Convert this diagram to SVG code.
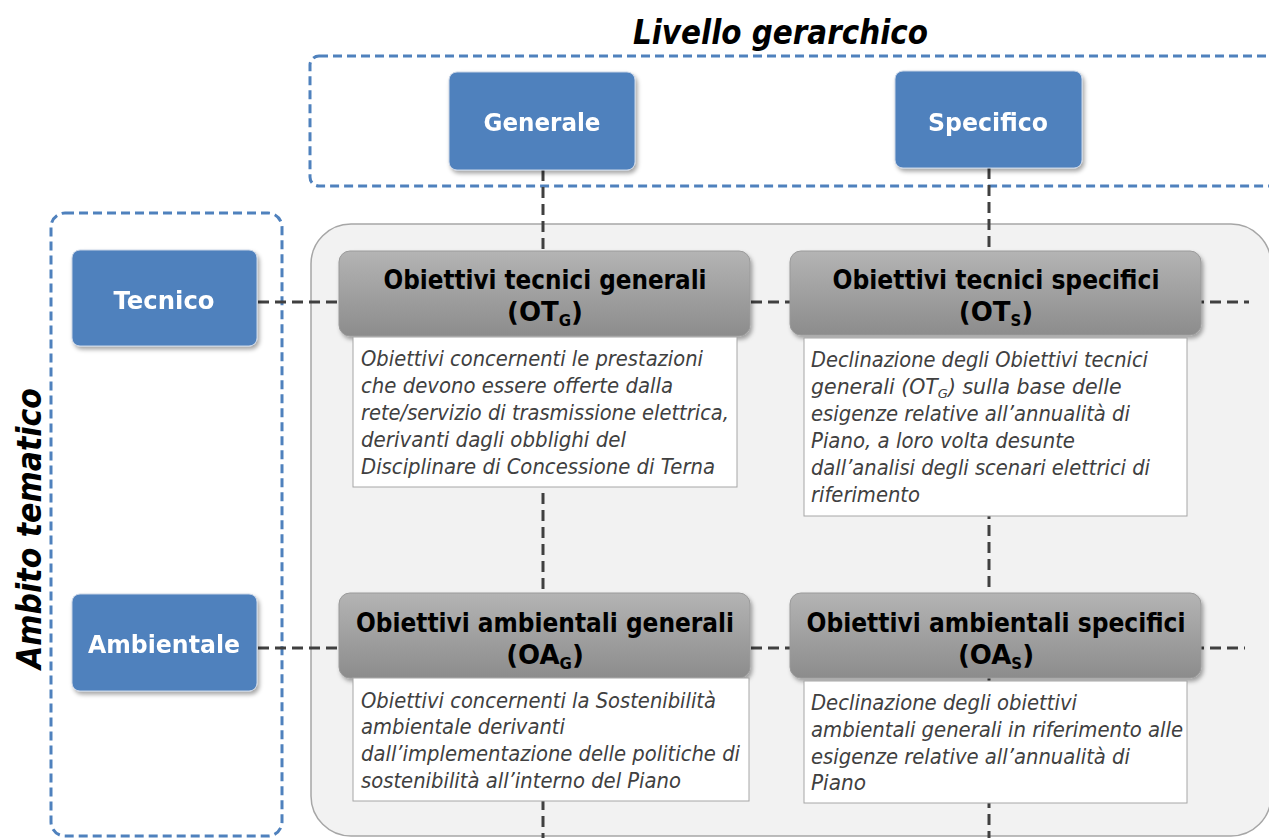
<svg xmlns="http://www.w3.org/2000/svg" width="1269" height="838" viewBox="0 0 1269 838">
<defs>
<linearGradient id="hdr" x1="0" y1="0" x2="0" y2="1">
<stop offset="0" stop-color="#b4b4b4"/>
<stop offset="1" stop-color="#8c8c8c"/>
</linearGradient>
<filter id="sh" x="-10%" y="-10%" width="125%" height="130%">
<feDropShadow dx="2" dy="3" stdDeviation="2" flood-color="#000" flood-opacity="0.35"/>
</filter>
<style>
.dashblue{fill:none;stroke:#4f81bd;stroke-width:3;stroke-dasharray:9 5}
.conn{fill:none;stroke:#404040;stroke-width:3;stroke-dasharray:11 6}
.blue{fill:#4f81bd;stroke:#c8d4e6;stroke-width:1}
.blabel{font-family:"DejaVu Sans",Verdana,sans-serif;font-weight:bold;font-size:25px;fill:#ffffff;text-anchor:middle}
.hdr{fill:url(#hdr);stroke:#9a9a9a;stroke-width:1}
.htitle{font-family:"DejaVu Sans",Verdana,sans-serif;font-weight:bold;font-size:26px;fill:#000;text-anchor:middle}
.desc{fill:#ffffff;stroke:#a6a6a6;stroke-width:1}
.dtext{font-family:"DejaVu Sans",Verdana,sans-serif;font-style:italic;font-size:20.5px;fill:#404040}
.title{font-family:"DejaVu Sans",Verdana,sans-serif;font-weight:bold;font-style:italic;font-size:34px;fill:#000}
</style>
</defs>
<rect width="1269" height="838" fill="#ffffff"/>

<g id="group-livello">
<rect class="dashblue" x="310" y="56" width="980" height="130" rx="9"/>
<text class="title" x="633" y="44" textLength="295" lengthAdjust="spacingAndGlyphs">Livello gerarchico</text>
</g>
<g id="group-ambito">
<rect class="dashblue" x="51" y="213" width="231" height="623" rx="14"/>
<text class="title" transform="translate(41,669) rotate(-90)" textLength="281" lengthAdjust="spacingAndGlyphs">Ambito tematico</text>
</g>
<g id="panel">
<rect x="311" y="224" width="960" height="612" rx="40" fill="#f2f2f2" stroke="#a6a6a6" stroke-width="1.5"/>
</g>

<g id="connectors">
<line class="conn" x1="543" y1="170" x2="543" y2="838"/>
<line class="conn" x1="989" y1="168" x2="989" y2="838"/>
<line class="conn" x1="258" y1="302" x2="1249" y2="302"/>
<line class="conn" x1="258" y1="648" x2="1245" y2="648"/>
</g>

<g id="generale" filter="url(#sh)">
<rect class="blue" x="449" y="72" width="186" height="98" rx="8"/>
<text class="blabel" x="542" y="131" textLength="117" lengthAdjust="spacingAndGlyphs">Generale</text>
</g>
<g id="specifico" filter="url(#sh)">
<rect class="blue" x="895" y="71" width="187" height="97" rx="8"/>
<text class="blabel" x="988" y="131" textLength="120" lengthAdjust="spacingAndGlyphs">Specifico</text>
</g>
<g id="tecnico" filter="url(#sh)">
<rect class="blue" x="72" y="250" width="185" height="96" rx="8"/>
<text class="blabel" x="164" y="309" textLength="101" lengthAdjust="spacingAndGlyphs">Tecnico</text>
</g>
<g id="ambientale" filter="url(#sh)">
<rect class="blue" x="72" y="594" width="185" height="97" rx="8"/>
<text class="blabel" x="164" y="653" textLength="152" lengthAdjust="spacingAndGlyphs">Ambientale</text>
</g>

<g id="otg">
<rect class="hdr" x="339" y="251" width="411" height="85" rx="11" filter="url(#sh)"/>
<text class="htitle" x="545" y="289" textLength="323" lengthAdjust="spacingAndGlyphs">Obiettivi tecnici generali</text>
<text class="htitle" x="545" y="321">(OT<tspan font-size="15" dy="5">G</tspan><tspan dy="-5">)</tspan></text>
<rect class="desc" x="353" y="337" width="384" height="150"/>
<text class="dtext" x="361" y="366" textLength="342" lengthAdjust="spacingAndGlyphs">Obiettivi concernenti le prestazioni</text>
<text class="dtext" x="361" y="393" textLength="312" lengthAdjust="spacingAndGlyphs">che devono essere offerte dalla</text>
<text class="dtext" x="361" y="420" textLength="368" lengthAdjust="spacingAndGlyphs">rete/servizio di trasmissione elettrica,</text>
<text class="dtext" x="361" y="447" textLength="265" lengthAdjust="spacingAndGlyphs">derivanti dagli obblighi del</text>
<text class="dtext" x="361" y="474" textLength="354" lengthAdjust="spacingAndGlyphs">Disciplinare di Concessione di Terna</text>
</g>

<g id="ots">
<rect class="hdr" x="790" y="251" width="411" height="84" rx="11" filter="url(#sh)"/>
<text class="htitle" x="996" y="289" textLength="327" lengthAdjust="spacingAndGlyphs">Obiettivi tecnici specifici</text>
<text class="htitle" x="996" y="321">(OT<tspan font-size="15" dy="5">S</tspan><tspan dy="-5">)</tspan></text>
<rect class="desc" x="804" y="338" width="383" height="178"/>
<text class="dtext" x="811" y="367" textLength="337" lengthAdjust="spacingAndGlyphs">Declinazione degli Obiettivi tecnici</text>
<text class="dtext" x="811" y="394" font-size="19.8">generali (OT<tspan font-size="13" dy="4">G</tspan><tspan dy="-4">) sulla base delle</tspan></text>
<text class="dtext" x="811" y="421" textLength="319" lengthAdjust="spacingAndGlyphs">esigenze relative all’annualità di</text>
<text class="dtext" x="811" y="448" textLength="264" lengthAdjust="spacingAndGlyphs">Piano, a loro volta desunte</text>
<text class="dtext" x="811" y="475" textLength="339" lengthAdjust="spacingAndGlyphs">dall’analisi degli scenari elettrici di</text>
<text class="dtext" x="811" y="502" textLength="109" lengthAdjust="spacingAndGlyphs">riferimento</text>
</g>

<g id="oag">
<rect class="hdr" x="339" y="593" width="411" height="85" rx="11" filter="url(#sh)"/>
<text class="htitle" x="545" y="632" textLength="378" lengthAdjust="spacingAndGlyphs">Obiettivi ambientali generali</text>
<text class="htitle" x="545" y="664">(OA<tspan font-size="15" dy="5">G</tspan><tspan dy="-5">)</tspan></text>
<rect class="desc" x="353" y="678" width="396" height="123"/>
<text class="dtext" x="361" y="708" textLength="355" lengthAdjust="spacingAndGlyphs">Obiettivi concernenti la Sostenibilità</text>
<text class="dtext" x="361" y="734" textLength="204" lengthAdjust="spacingAndGlyphs">ambientale derivanti</text>
<text class="dtext" x="361" y="761" textLength="379" lengthAdjust="spacingAndGlyphs">dall’implementazione delle politiche di</text>
<text class="dtext" x="361" y="788" textLength="320" lengthAdjust="spacingAndGlyphs">sostenibilità all’interno del Piano</text>
</g>

<g id="oas">
<rect class="hdr" x="790" y="593" width="411" height="85" rx="11" filter="url(#sh)"/>
<text class="htitle" x="996" y="632" textLength="379" lengthAdjust="spacingAndGlyphs">Obiettivi ambientali specifici</text>
<text class="htitle" x="996" y="664">(OA<tspan font-size="15" dy="5">S</tspan><tspan dy="-5">)</tspan></text>
<rect class="desc" x="804" y="681" width="383" height="122"/>
<text class="dtext" x="811" y="710" textLength="266" lengthAdjust="spacingAndGlyphs">Declinazione degli obiettivi</text>
<text class="dtext" x="811" y="737" textLength="372" lengthAdjust="spacingAndGlyphs">ambientali generali in riferimento alle</text>
<text class="dtext" x="811" y="764" textLength="319" lengthAdjust="spacingAndGlyphs">esigenze relative all’annualità di</text>
<text class="dtext" x="811" y="790" textLength="55" lengthAdjust="spacingAndGlyphs">Piano</text>
</g>
</svg>
